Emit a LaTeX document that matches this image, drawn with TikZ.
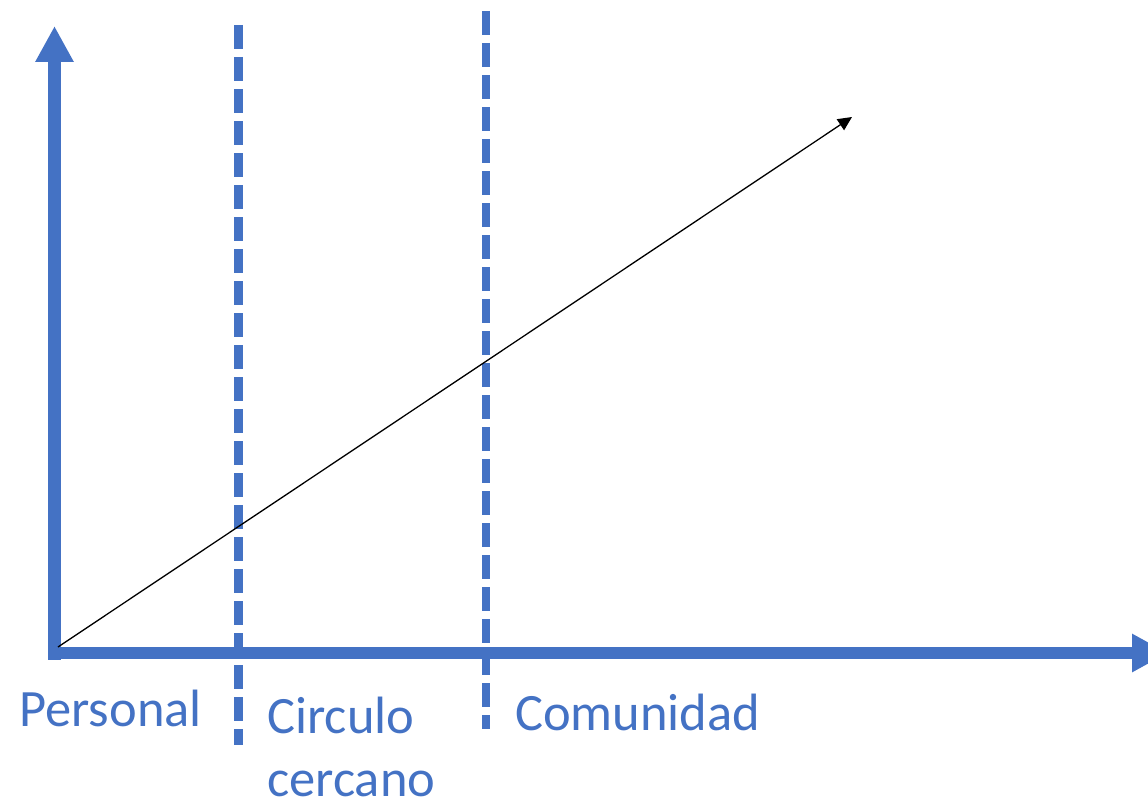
\documentclass[tikz,border=0pt]{standalone}
\usepackage{fontspec}
\setmainfont{Carlito}
\usetikzlibrary{arrows.meta}
\definecolor{axisblue}{HTML}{4472C4}
\tikzset{
  axis/.style={draw=axisblue, line width=12.5pt, -{Triangle[length=36pt,width=36pt]}},
  divider/.style={draw=axisblue, line width=8.5pt, dash pattern=on 24pt off 8pt},
  trend/.style={draw=black, line width=1.3pt, -{Triangle[length=14pt,width=13pt]}},
  lbl/.style={text=axisblue, anchor=base west, inner sep=0pt, font=\fontsize{52.5}{63}\selectfont, align=left}
}
\begin{document}
\begin{tikzpicture}[x=1pt,y=-1pt]
\useasboundingbox (0,0) rectangle (1148,800);
\clip (0,0) rectangle (1148,800);
% coordinates
\coordinate (vbot) at (54.5,659.5);
\coordinate (vtop) at (54.5,26);
\coordinate (hleft) at (48,653);
\coordinate (hright) at (1168,653);
\coordinate (d1top) at (238.5,25);
\coordinate (d1bot) at (238.5,745);
\coordinate (d2top) at (486,11);
\coordinate (d2bot) at (486,729);
\coordinate (tstart) at (58,647);
\coordinate (tend) at (852,117);
% axes
\draw[axis] (vbot) -- (vtop);
\draw[axis] (hleft) -- (hright);
% dividers
\draw[divider] (d1top) -- (d1bot);
\draw[divider] (d2top) -- (d2bot);
% trend arrow
\draw[trend] (tstart) -- (tend);
% labels
\node[lbl] (personal) at (19,726) {Personal};
\node[lbl] (circulo) at (267,796) {Circulo\\cercano};
\node[lbl] (comunidad) at (515,730) {Comunidad};
\end{tikzpicture}
\end{document}
